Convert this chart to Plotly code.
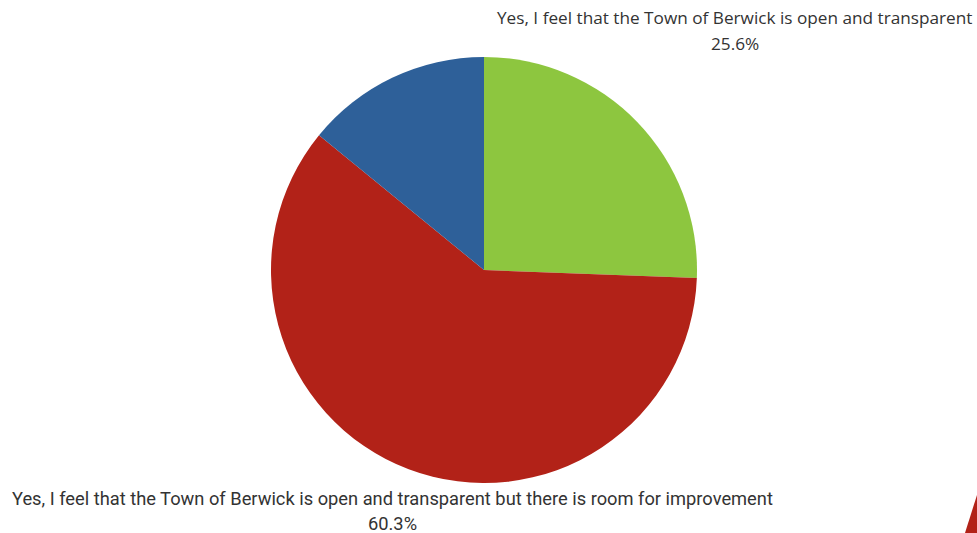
import plotly.graph_objects as go

labels = ["Yes, I feel that the Town of Berwick is open and transparent",
          "Yes, I feel that the Town of Berwick is open and transparent but there is room for improvement",
          "No"]
values = [25.6, 60.3, 14.1]
colors = ["#8DC63F", "#B22218", "#2E6099"]

W, H = 977, 533
cx, cy, r = 484, 270, 213

fig = go.Figure(go.Pie(
    labels=labels, values=values, sort=False, direction="clockwise", rotation=0,
    marker=dict(colors=colors, line=dict(width=0)),
    textinfo="none", hoverinfo="label+percent", showlegend=False,
    domain=dict(x=[(cx - r) / W, (cx + r) / W], y=[1 - (cy + r) / H, 1 - (cy - r) / H]),
))

def ann(text, x, y, size=16, family="Open Sans"):
    fig.add_annotation(text=text, x=x / W, y=1 - y / H, xref="paper", yref="paper",
                       showarrow=False, xanchor="center", yanchor="middle",
                       font=dict(size=size, color="#333333", family=family))

ann(labels[0], 734.5, 18, size=17.2)
ann(f"{values[0]}%", 734.5, 43, size=17.2)
ann(labels[1], 392.5, 498, size=18.3, family="Roboto")
ann(f"{values[1]}%", 392.5, 523, size=18.3, family="Roboto")

fig.add_shape(type="path", xref="paper", yref="paper",
              path=f"M {965/W} 0 L 1 {1-495/H} L 1 0 Z",
              fillcolor="#B22218", line=dict(width=0))

fig.update_layout(width=W, height=H, margin=dict(l=0, r=0, t=0, b=0),
                  paper_bgcolor="white", plot_bgcolor="white")
fig.write_html("out.html")
